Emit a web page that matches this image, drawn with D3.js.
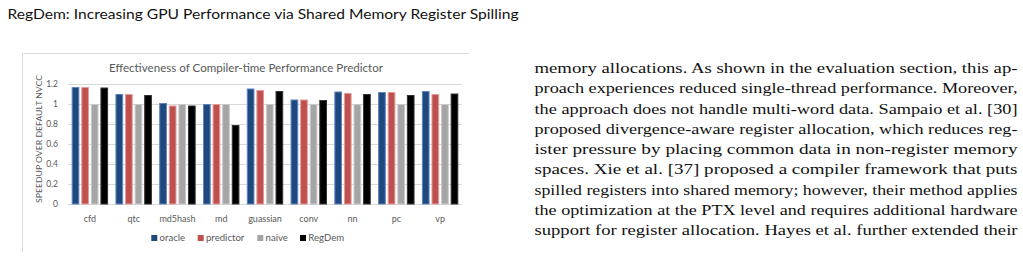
<!DOCTYPE html>
<html>
<head>
<meta charset="utf-8">
<script src="https://cdn.jsdelivr.net/npm/d3@7"></script>
<style>
  html, body { margin: 0; padding: 0; background: #fff; }
  svg { display: block; }
</style>
</head>
<body>
<svg id="page" width="1023" height="259"></svg>
<script>
// ---- data ----
const categories = ["cfd", "qtc", "md5hash", "md", "guassian", "conv", "nn", "pc", "vp"];
const seriesNames = ["oracle", "predictor", "naive", "RegDem"];
const oracle    = [1.17, 1.10, 1.01, 1.00, 1.155, 1.045, 1.125, 1.12, 1.13];
const predictor = [1.17, 1.10, 0.985, 1.00, 1.14, 1.045, 1.11, 1.12, 1.10];
const naive     = [1.00, 1.00, 1.00, 1.00, 1.00, 1.00, 1.00, 1.00, 1.00];
const regdem    = [1.165, 1.09, 0.985, 0.79, 1.13, 1.04, 1.10, 1.09, 1.105];
const yTicks = [0, 0.2, 0.4, 0.6, 0.8, 1, 1.2];
const chartTitle = "Effectiveness of Compiler-time Performance Predictor";
const yTitle = "SPEEDUP OVER DEFAULT NVCC";
const header = "RegDem: Increasing GPU Performance via Shared Memory Register Spilling";
const bodyLines = [
  "memory allocations. As shown in the evaluation section, this ap-",
  "proach experiences reduced single-thread performance. Moreover,",
  "the approach does not handle multi-word data. Sampaio et al. [30]",
  "proposed divergence-aware register allocation, which reduces reg-",
  "ister pressure by placing common data in non-register memory",
  "spaces. Xie et al. [37] proposed a compiler framework that puts",
  "spilled registers into shared memory; however, their method applies",
  "the optimization at the PTX level and requires additional hardware",
  "support for register allocation. Hayes et al. further extended their"
];

const seriesValues = [oracle, predictor, naive, regdem];
const fills   = ["#1f497d", "#c0504d", "#a5a5a5", "#000000"];
const strokes = ["#5b84c4", "#e39a98", "#c9c9c9", "#333333"];

const svg = d3.select("#page");

// ---- page header ----
svg.append("text")
  .attr("x", 7.5).attr("y", 18.5)
  .attr("font-family", "Lato, 'Liberation Sans', sans-serif")
  .attr("font-size", 14.2)
  .attr("fill", "#111")
  .attr("textLength", 511).attr("lengthAdjust", "spacingAndGlyphs")
  .text(header);

// ---- body text ----
const body = svg.append("g")
  .attr("font-family", "'Liberation Serif', 'DejaVu Serif', serif")
  .attr("font-size", 15.6)
  .attr("fill", "#111");
bodyLines.forEach((t, i) => {
  body.append("text")
    .attr("x", 534.5)
    .attr("y", 73 + i * 20.25)
    .attr("textLength", 483).attr("lengthAdjust", "spacingAndGlyphs")
    .text(t);
});

// ---- chart frame ----
svg.append("path")
  .attr("d", "M22.5,252 L22.5,53.5 L469,53.5")
  .attr("fill", "none").attr("stroke", "#d9d9d9").attr("stroke-width", 1);

// ---- scales ----
const x0 = d3.scaleBand().domain(categories).range([68, 462]).padding(0);
const inset = x0.bandwidth() * 0.084;
const x1 = d3.scaleBand().domain(seriesNames)
  .range([inset, x0.bandwidth() - inset]).paddingInner(0.2).paddingOuter(0);
const y = d3.scaleLinear().domain([0, 1.2]).range([204, 84]);

// gridlines
svg.append("g").selectAll("line").data(yTicks).join("line")
  .attr("x1", 68).attr("x2", 462)
  .attr("y1", d => Math.round(y(d)) + 0.5).attr("y2", d => Math.round(y(d)) + 0.5)
  .attr("stroke", "#d9d9d9").attr("stroke-width", 1);

// y tick labels
svg.append("g").selectAll("text").data(yTicks).join("text")
  .attr("x", 58).attr("y", d => y(d) + 3)
  .attr("text-anchor", "end")
  .attr("font-family", "Lato, 'Liberation Sans', sans-serif")
  .attr("font-size", 8.5).attr("fill", "#595959")
  .text(d => d3.format("~g")(d));

// y title
svg.append("text")
  .attr("transform", `translate(41.5,139) rotate(-90)`)
  .attr("text-anchor", "middle")
  .attr("font-family", "Lato, 'Liberation Sans', sans-serif")
  .attr("font-size", 8.3).attr("fill", "#595959")
  .attr("textLength", 128).attr("lengthAdjust", "spacingAndGlyphs")
  .text(yTitle);

// chart title
svg.append("text")
  .attr("x", 246).attr("y", 71.5)
  .attr("text-anchor", "middle")
  .attr("font-family", "Lato, 'Liberation Sans', sans-serif")
  .attr("font-size", 10.5).attr("fill", "#595959")
  .attr("textLength", 274).attr("lengthAdjust", "spacingAndGlyphs")
  .text(chartTitle);

// bars
const groups = svg.append("g").selectAll("g").data(categories).join("g")
  .attr("transform", d => `translate(${x0(d)},0)`);
groups.selectAll("rect")
  .data((c, ci) => seriesNames.map((s, si) => ({ s, si, v: seriesValues[si][ci] })))
  .join("rect")
  .attr("x", d => x1(d.s) + 0.5)
  .attr("y", d => y(d.v) + 0.5)
  .attr("width", x1.bandwidth() - 1)
  .attr("height", d => y(0) - y(d.v) - 0.5)
  .attr("fill", d => fills[d.si])
  .attr("stroke", d => strokes[d.si])
  .attr("stroke-width", 1);

// category labels
svg.append("g").selectAll("text").data(categories).join("text")
  .attr("x", d => x0(d) + x0.bandwidth() / 2)
  .attr("y", 221.5)
  .attr("text-anchor", "middle")
  .attr("font-family", "Lato, 'Liberation Sans', sans-serif")
  .attr("font-size", 9).attr("fill", "#595959")
  .text(d => d);

// legend
const legendX = [151.3, 197.7, 257.3, 300];
const leg = svg.append("g").selectAll("g").data(seriesNames).join("g")
  .attr("transform", (d, i) => `translate(${legendX[i]},235)`);
leg.append("rect")
  .attr("width", 6).attr("height", 6)
  .attr("fill", (d, i) => fills[i]);
leg.append("text")
  .attr("x", 8.3).attr("y", 6.3)
  .attr("font-family", "Lato, 'Liberation Sans', sans-serif")
  .attr("font-size", 9.6).attr("fill", "#595959")
  .text(d => d);
</script>
</body>
</html>
